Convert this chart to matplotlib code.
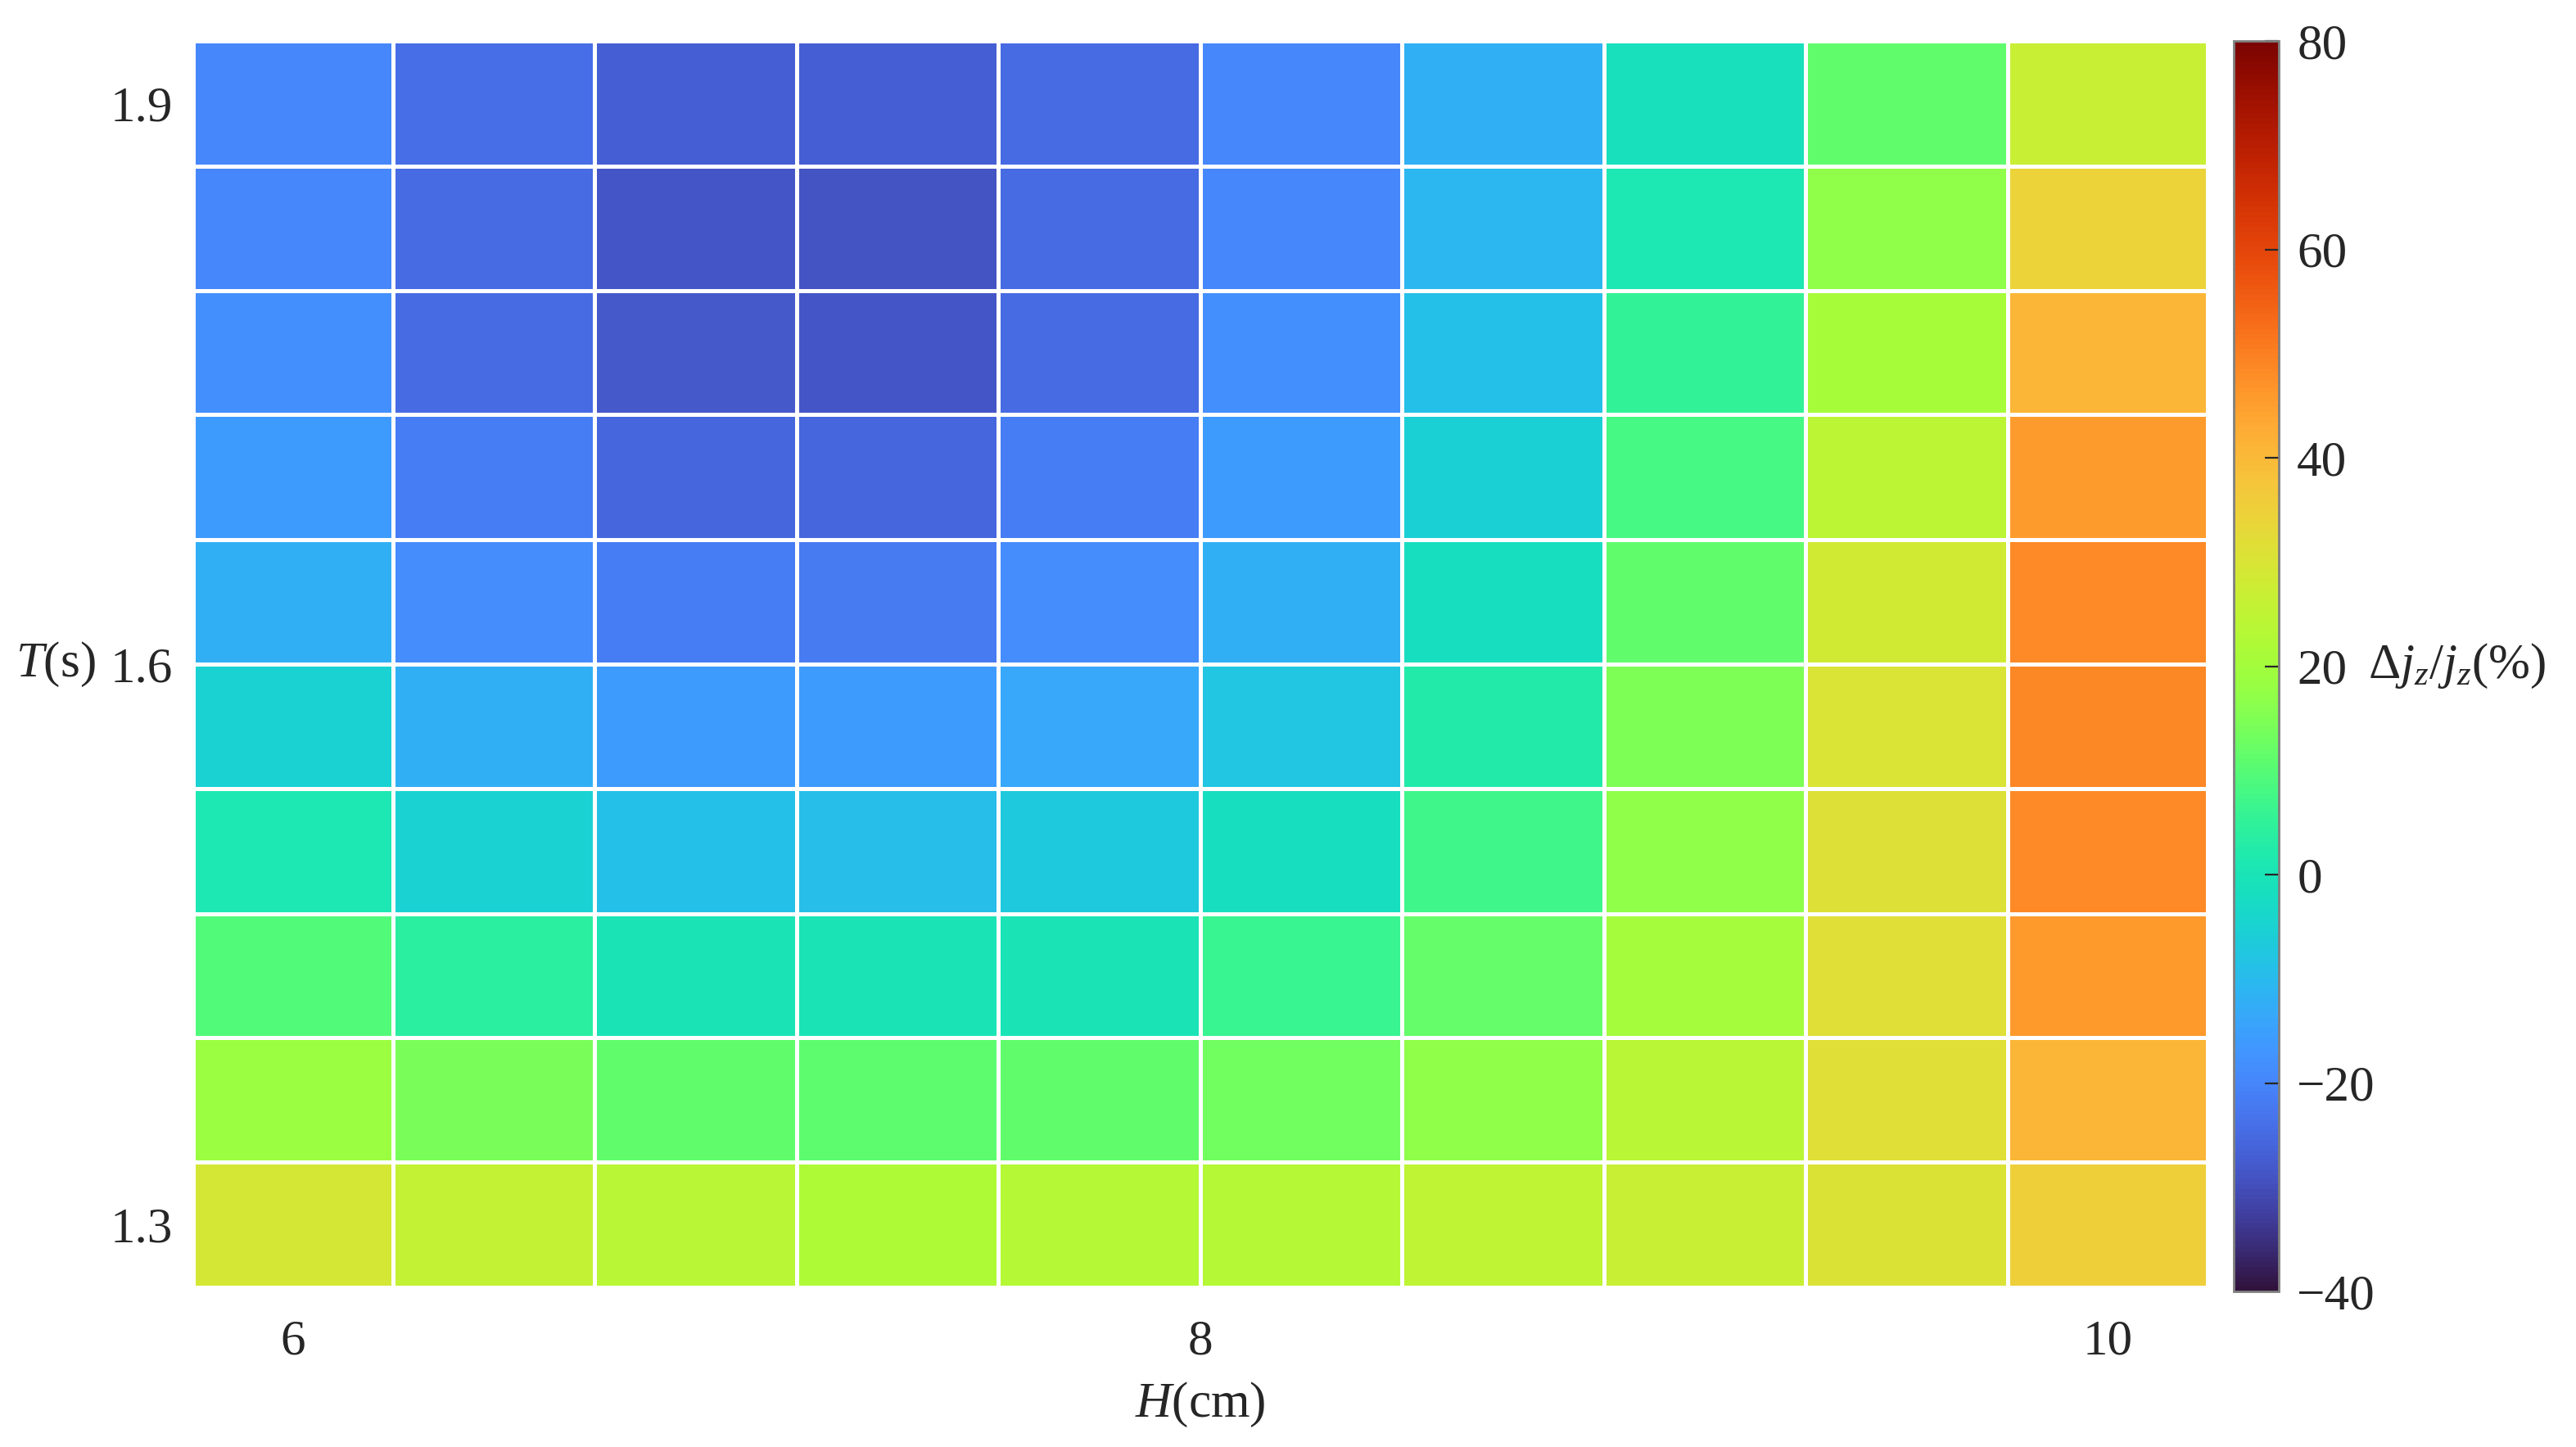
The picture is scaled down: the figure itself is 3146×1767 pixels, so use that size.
import numpy as np
import matplotlib
matplotlib.use("Agg")
import matplotlib.pyplot as plt

plt.rcParams['font.family'] = ['Liberation Serif', 'DejaVu Serif']
plt.rcParams['mathtext.fontset'] = 'custom'
plt.rcParams['mathtext.rm'] = 'Liberation Serif'
plt.rcParams['mathtext.it'] = 'Liberation Serif:italic'
plt.rcParams['mathtext.bf'] = 'Liberation Serif:bold'

# wave height H (cm) and period T (s)
H = [6.0, 6.44, 6.89, 7.33, 7.78, 8.22, 8.67, 9.11, 9.56, 10.0]
T = [1.3, 1.367, 1.433, 1.5, 1.567, 1.633, 1.7, 1.767, 1.833, 1.9]

# relative change dj_z/j_z (%), rows from T=1.9 (top) down to T=1.3
dj_rows_top_down = [
    [-19.5, -24.5, -27, -27, -25, -19.5, -12, -1.5, 11.5, 27],
    [-19.5, -25, -28.5, -29, -25, -19.5, -10.5, 1, 17, 34.5],
    [-18, -25, -28, -28.5, -25, -18, -9, 5, 20.5, 41],
    [-16, -21.5, -25.5, -25.5, -21.5, -16, -5.5, 8, 24.5, 45.5],
    [-12, -18.5, -21.5, -22, -18.5, -12, -2, 11.5, 28, 48.5],
    [-5, -12, -16, -16, -13.5, -8, 2.5, 14.5, 30, 49],
    [1, -5, -9, -9.5, -7, -2, 7, 17, 31, 48.5],
    [9.5, 4, 0, 0, 0, 6, 12, 20, 31.5, 46],
    [19, 14, 11.5, 11, 11.5, 13, 17, 24, 31.5, 41],
    [29, 26, 24, 22, 23, 23, 25, 27, 30.5, 35],
]

x_ticks = [6, 8, 10]
y_ticks = [1.3, 1.6, 1.9]
cbar_ticks = [-40, -20, 0, 20, 40, 60, 80]

Z = np.array(dj_rows_top_down)[::-1]

fig = plt.figure(figsize=(15.73, 8.835), dpi=200)
ax = fig.add_axes([0.075, 0.1104, 0.7819, 0.8613])
cax = fig.add_axes([0.8671, 0.1075, 0.0175, 0.8642])

mesh = ax.pcolormesh(H, T, Z, shading='nearest', cmap='turbo',
                     vmin=-40, vmax=80, edgecolors='white', linewidth=1.2)

for s in ax.spines.values():
    s.set_visible(False)
ax.set_xticks(x_ticks)
ax.set_xticklabels([str(v) for v in x_ticks])
ax.set_yticks(y_ticks)
ax.set_yticklabels([f"{v:.1f}" for v in y_ticks])
ax.tick_params(axis='both', length=0, labelsize=22, colors='#262626')
ax.tick_params(axis='x', pad=14)
ax.tick_params(axis='y', pad=9)

ax.set_xlabel(r'$H$(cm)', fontsize=22, color='#262626', va='top')
ax.xaxis.set_label_coords(0.5, -0.075)
ax.set_ylabel(r'$T$(s)', fontsize=22, rotation=0, color='#262626')
ax.yaxis.set_label_coords(-0.0685, 0.5)
ax.yaxis.label.set_va('center')

cb = fig.colorbar(mesh, cax=cax, ticks=cbar_ticks)
cb.outline.set_edgecolor('#7f7f7f')
cb.outline.set_linewidth(1.0)
cax.tick_params(direction='in', length=6, width=0.8, labelsize=22,
                colors='#262626', pad=8)
cax.set_yticklabels([f"{v}".replace('-', '\u2212') for v in cbar_ticks])
cax.text(2.98, 0.5, r'$\mathit{Δ}j_z/j_z$(%)', transform=cax.transAxes,
         fontsize=22, va='center', ha='left', color='#262626')

fig.savefig("out.png", dpi=200)
